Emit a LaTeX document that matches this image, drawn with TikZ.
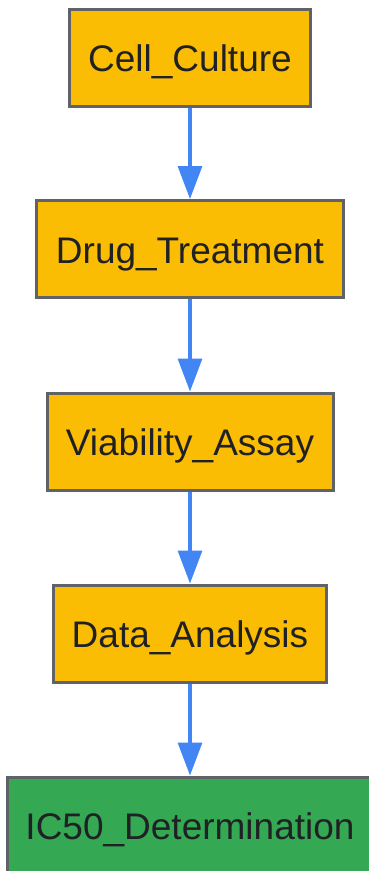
\documentclass[tikz,border=0pt]{standalone}
\usepackage{fontspec}
\setmainfont{Liberation Sans}
\usetikzlibrary{arrows.meta}
\definecolor{boxorange}{HTML}{FBBC04}
\definecolor{boxgreen}{HTML}{34A853}
\definecolor{boxborder}{HTML}{5F6368}
\definecolor{arrowblue}{HTML}{4285F4}
\definecolor{txt}{HTML}{202124}
\tikzset{
  stepbox/.style={draw=boxborder, line width=3pt, fill=boxorange, minimum height=97pt,
    inner sep=0pt, text height=28.5pt, text depth=0pt, text=txt, font=\fontsize{37}{44}\selectfont},
  endbox/.style={stepbox, fill=boxgreen},
  flow/.style={draw=arrowblue, line width=3.2pt, -{Triangle[length=33pt,width=24pt]}}
}
\begin{document}
\begin{tikzpicture}[x=1pt,y=-1pt]
\useasboundingbox (0,0) rectangle (369,871);
\node[stepbox, minimum width=241pt] (a) at (190,57.5) {Cell\_Culture};
\node[stepbox, minimum width=307pt] (b) at (190,249) {Drug\_Treatment};
\node[stepbox, minimum width=286pt] (c) at (190,441.5) {Viability\_Assay};
\node[stepbox, minimum width=273pt] (d) at (190,633.5) {Data\_Analysis};
\node[endbox, minimum width=365pt] (e) at (190,825.5) {IC50\_Determination};
\draw[flow] (a) -- (b);
\draw[flow] (b) -- (c);
\draw[flow] (c) -- (d);
\draw[flow] (d) -- (e);
\end{tikzpicture}
\end{document}
